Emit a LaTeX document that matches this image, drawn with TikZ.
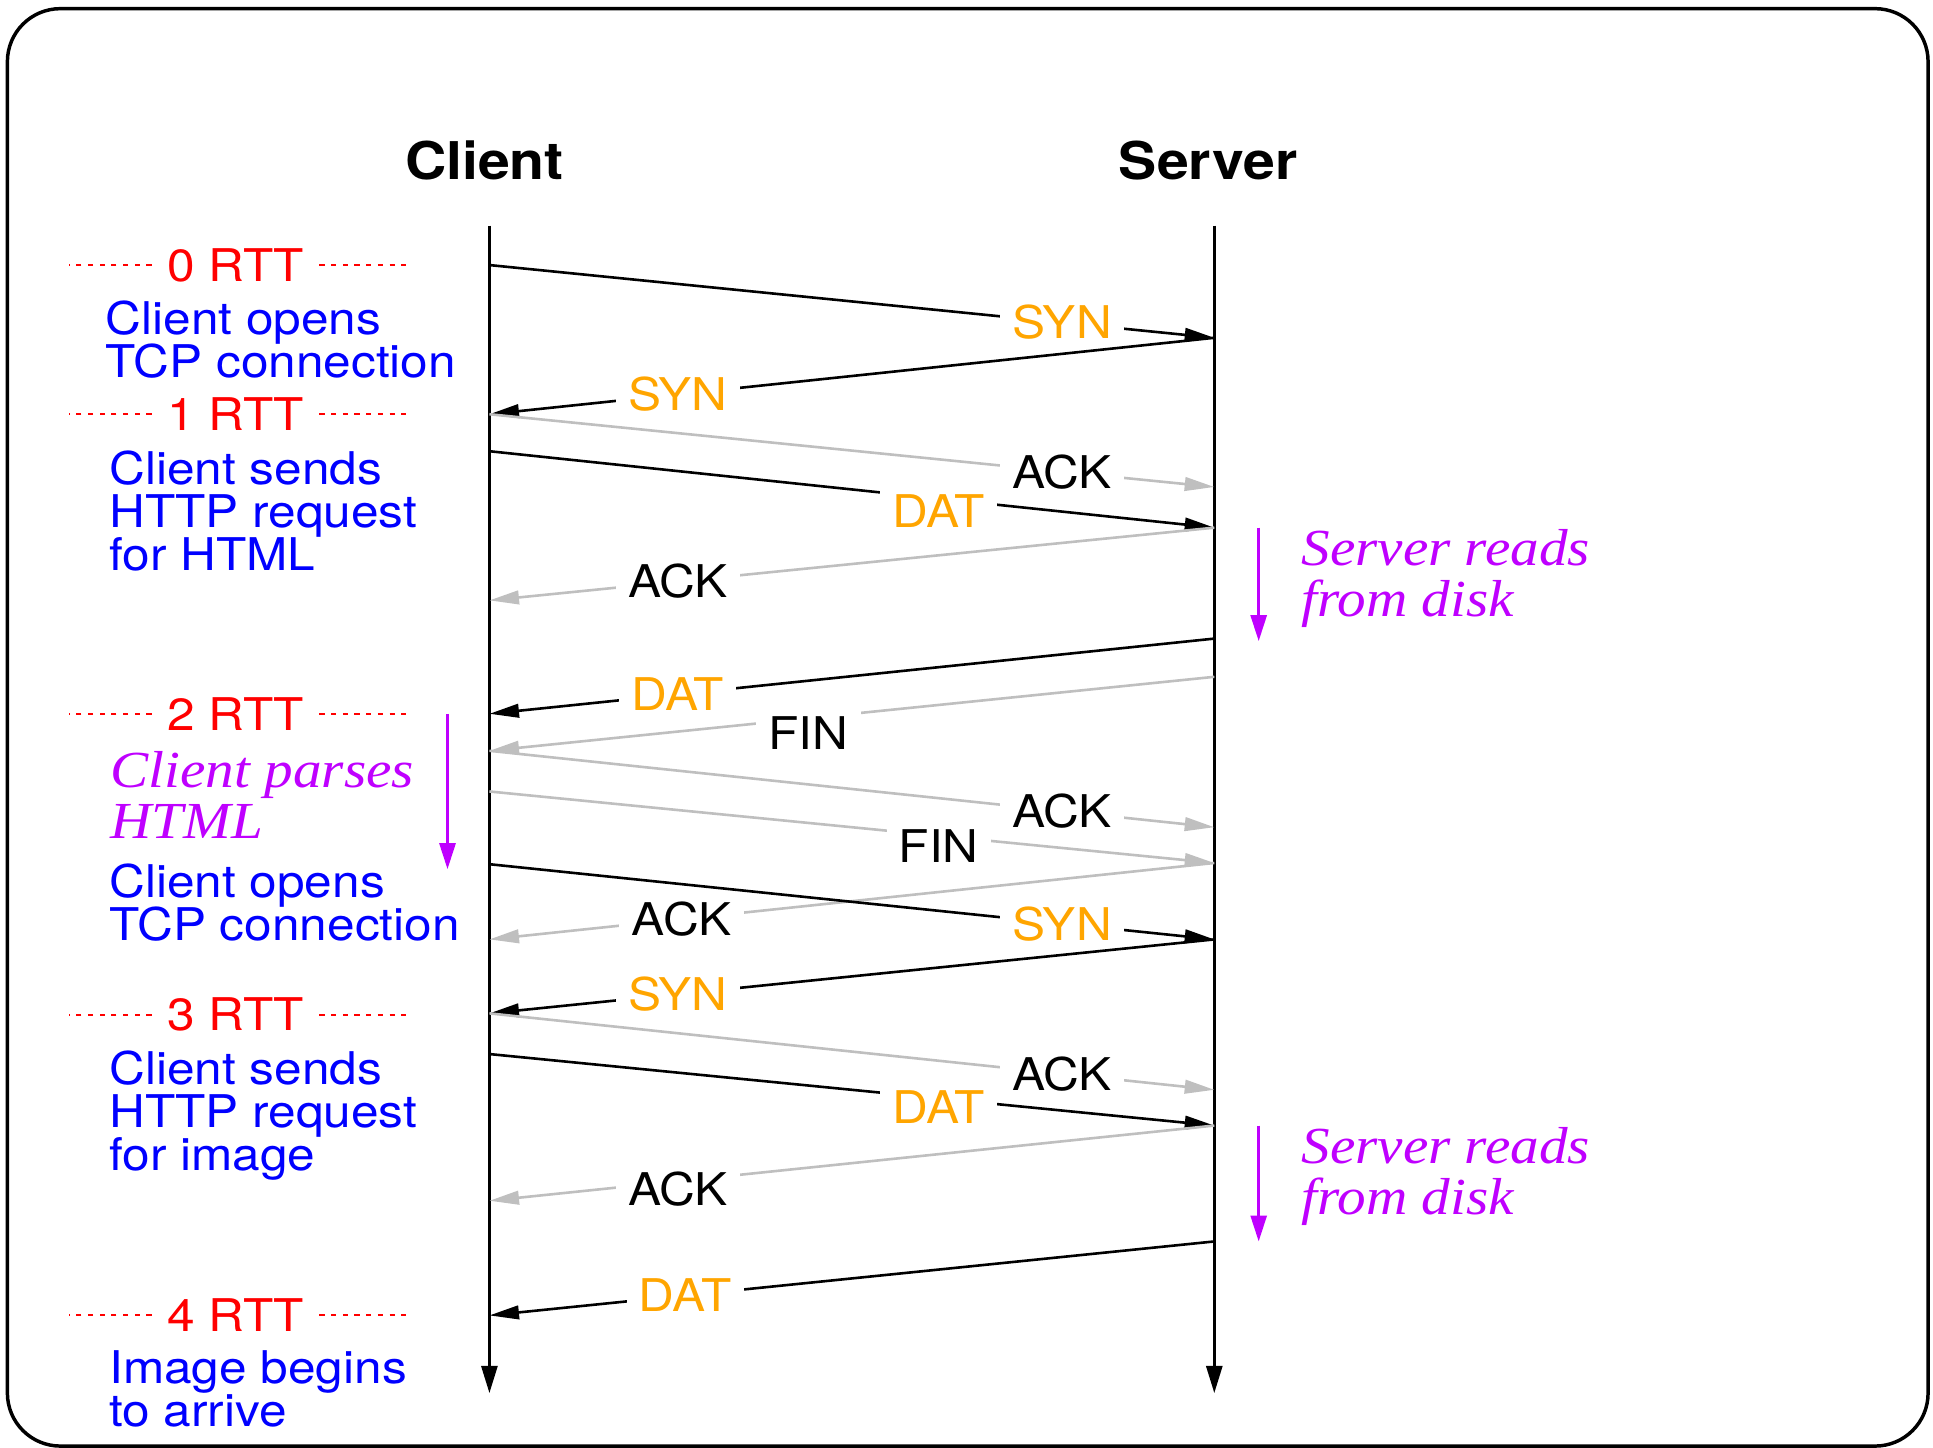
\documentclass[tikz,border=0pt]{standalone}
\usepackage{fontspec}
\setmainfont[FakeStretch=1.1]{TeX Gyre Heros}
\newfontfamily\timesfont[FakeStretch=1.1]{Liberation Serif}
\usetikzlibrary{arrows.meta}

\definecolor{synorange}{RGB}{255,165,0}
\definecolor{ackgray}{gray}{0.75}
\definecolor{notepurple}{RGB}{191,0,255}

\begin{document}
\begin{tikzpicture}[x=1cm, y=-1cm,
      msg/.style={-{Triangle[length=2.4mm,width=1.1mm]}, line width=0.6pt},
      ack/.style={msg, color=ackgray},
      life/.style={-{Triangle[length=2.2mm,width=1.3mm]}, line width=0.6pt},
      lbl/.style={fill=white, inner xsep=1mm, inner ysep=0.5mm, text=black, font=\fontsize{10.4}{10}\selectfont},
      dat/.style={lbl, text=synorange},
      title/.style={font=\fontsize{12}{14}\selectfont\bfseries},
      rtt/.style={text=red, inner xsep=1.2mm, inner ysep=0pt, font=\fontsize{10.4}{10}\selectfont},
      rttline/.style={red, line width=0.45pt, dash pattern=on 1.2pt off 1.5pt},
      step text/.style={text=blue, align=left, anchor=north west, inner sep=0pt,
        font=\fontsize{10.4}{9.9}\selectfont\setlength{\lineskiplimit}{-5pt}},
      note/.style={text=notepurple, align=left, anchor=north west, inner sep=0pt,
        font=\timesfont\itshape\fontsize{12}{11.8}\selectfont\setlength{\lineskiplimit}{-5pt}},
      wait/.style={-{Triangle[length=2.1mm,width=1.3mm]}, notepurple, line width=0.6pt}
      ]
      \useasboundingbox (0,0) rectangle (15.68,11.74);
      \draw[line width=0.8pt, rounded corners=4.3mm] (0.06,0.07) rectangle (15.64,11.73);

      % hosts and time lines
      \node[title] (client) at (3.93,1.30) {Client};
      \node[title] (server) at (9.80,1.30) {Server};
      \coordinate (ctop) at (3.97,1.83);
      \coordinate (cbot) at (3.97,11.30);
      \coordinate (stop) at (9.85,1.83);
      \coordinate (sbot) at (9.85,11.30);
      \draw[life] (ctop) -- (cbot);
      \draw[life] (stop) -- (sbot);

      % send and receive points
      \foreach \i/\y in {1/2.15,2/3.36,3/3.66,4/4.87,5/5.79,6/6.09,7/6.42,8/7.01,9/7.62,10/8.22,11/8.55,12/9.74,13/10.67}
        \coordinate (c\i) at (3.97,\y);
      \foreach \i/\y in {1/2.74,2/3.95,3/4.28,4/5.18,5/5.49,6/6.71,7/7.00,8/7.62,9/8.84,10/9.13,11/10.07}
        \coordinate (s\i) at (9.85,\y);

      % round trip marks
      \foreach \n/\y in {0/2.15,1/3.36,2/5.79,3/8.23,4/10.67} {
        \node[rtt] (rtt\n) at (1.91,\y) {\n\ RTT};
        \draw[rttline] (rtt\n.west) -- ++(-0.67,0);
        \draw[rttline] (rtt\n.east) -- ++(0.70,0);
      }

      % first connection
      \draw[msg] (c1) -- (s1) node[dat, pos=.79] {SYN};
      \draw[msg] (s1) -- (c2) node[dat, pos=.74] {SYN};
      \draw[ack] (c2) -- (s2) node[lbl, pos=.79] {ACK};
      \draw[msg] (c3) -- (s3) node[dat, pos=.62, yshift=-1mm] {DAT};
      \draw[ack] (s3) -- (c4) node[lbl, pos=.74] {ACK};
      \draw[msg] (s4) -- (c5) node[dat, pos=.74] {DAT};
      \draw[ack] (s5) -- (c6) node[lbl, pos=.56, yshift=-1.2mm] {FIN};
      \draw[ack] (c6) -- (s6) node[lbl, pos=.79] {ACK};
      \draw[ack] (c7) -- (s7) node[lbl, pos=.62, yshift=-0.8mm] {FIN};
      \draw[ack] (s7) -- (c9) node[lbl, pos=.735] {ACK};

      % second connection
      \draw[msg] (c8) -- (s8) node[dat, pos=.79] {SYN};
      \draw[msg] (s8) -- (c10) node[dat, pos=.74] {SYN};
      \draw[ack] (c10) -- (s9) node[lbl, pos=.79] {ACK};
      \draw[msg] (c11) -- (s10) node[dat, pos=.62, yshift=-0.7mm] {DAT};
      \draw[ack] (s10) -- (c12) node[lbl, pos=.74, yshift=-0.6mm] {ACK};
      \draw[msg] (s11) -- (c13) node[dat, pos=.73] {DAT};

      % processing delays
      \draw[wait] ([xshift=3.6mm]s3) -- ([xshift=3.6mm,yshift=-0.2mm]s4);
      \draw[wait] ([xshift=3.6mm]s10) -- ([xshift=3.6mm]s11);
      \draw[wait] ([xshift=-3.4mm]c5) -- ([xshift=-3.4mm,yshift=-0.4mm]c8);
      \node[note] (read1) at (10.55,4.29) {Server reads\\from disk};
      \node[note] (read2) at (10.55,9.14) {Server reads\\from disk};
      \node[note] (parse) at (0.89,6.09) {Client parses\\HTML};

      % what the client does
      \node[step text] (open1) at (0.85,2.43) {Client opens\\TCP connection};
      \node[step text] (req1) at (0.88,3.65) {Client sends\\HTTP request\\for HTML};
      \node[step text] (open2) at (0.88,7.00) {Client opens\\TCP connection};
      \node[step text] (req2) at (0.88,8.52) {Client sends\\HTTP request\\for image};
      \node[step text] (arrive) at (0.88,10.95) {Image begins\\to arrive};
\end{tikzpicture}
\end{document}
